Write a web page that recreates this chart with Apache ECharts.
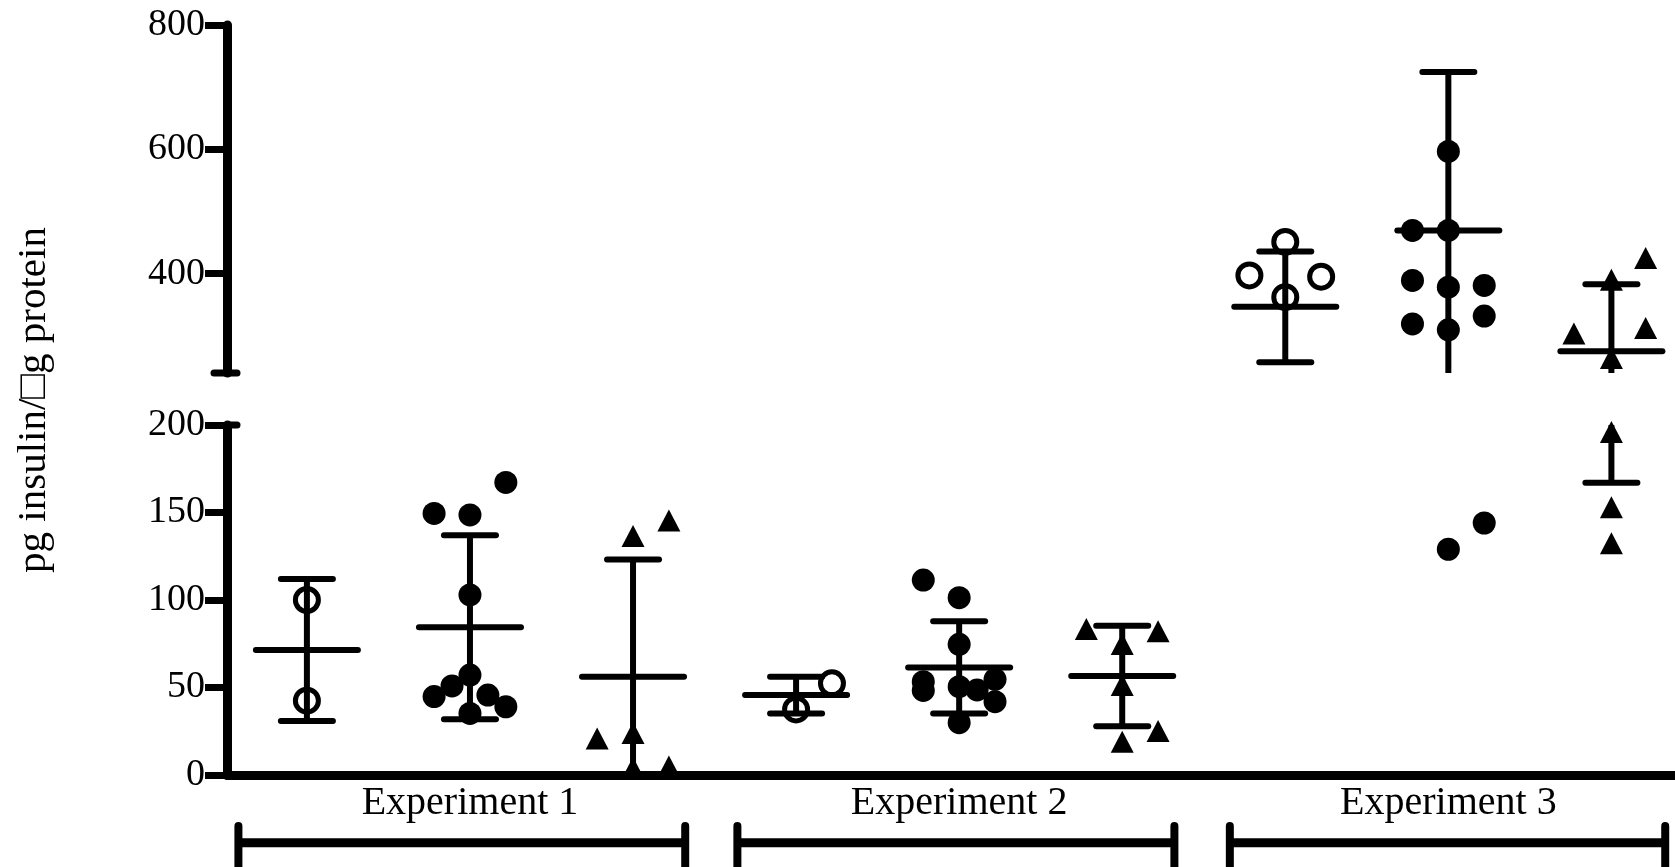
<!DOCTYPE html>
<html><head><meta charset="utf-8">
<script src="https://cdn.jsdelivr.net/npm/echarts@6/dist/echarts.min.js"></script>
<style>html,body{margin:0;padding:0;background:#fff}#c{width:1675px;height:867px}</style>
</head><body><div id="c"></div>
<script>
// ---------- data ----------
const categories = ['Experiment 1', 'Experiment 2', 'Experiment 3'];
const categoryColumn = [1, 4, 7];          // column under which each label is centred
const bracketFrom = [-0.42, 2.64, 5.66];   // bracket extents in column units
const bracketTo = [2.32, 5.32, 8.33];
const yTitle = 'pg insulin/\u25A1g protein';
const lowerTicks = [0, 50, 100, 150, 200];
const upperTicks = [400, 600, 800];

// individual points: column position (column index + jitter) and value
const openCircleX = [0, 0, 3.22, 3, 6, 5.78, 6.22, 6];
const openCircleY = [100, 42.5, 52.4, 37.5, 451, 397, 395, 362];

const filledCircleX = [1.22, 0.78, 1, 1, 1, 0.89, 0.78, 1.11, 1.22, 1,
                       3.78, 4, 4, 3.78, 3.78, 4, 4.11, 4.22, 4.22, 4,
                       7, 6.78, 7, 6.78, 7, 7.22, 6.78, 7, 7.22, 7, 7.22];
const filledCircleY = [167.2, 149.5, 148.6, 102.9, 57.1, 50.9, 44.8, 45.7, 39, 35.2,
                       111.4, 101.3, 74.7, 53.3, 48.3, 50.5, 48.6, 54.7, 41.9, 29.9,
                       596.6, 469.4, 469.4, 389, 378, 381, 319, 309.4, 331.6, 129, 144];

const triangleX = [2.22, 2, 1.78, 2, 2, 2.22,
                   4.78, 5.22, 5, 5, 5.22, 5,
                   8.21, 8, 8.21, 7.77, 8, 8, 8, 8];
const triangleY = [145.5, 136.6, 20.8, 24, 4, 4.8,
                   83.4, 82.1, 74.9, 51.4, 25.1, 19,
                   425, 390, 312.6, 303.6, 264, 196, 153, 132.5];

// mean and SD per column
const columnIndex = [0, 1, 2, 3, 4, 5, 6, 7, 8];
const means = [71.4, 84.4, 56.2, 45.7, 61.5, 56.6, 346.5, 469.4, 275];
const sds = [40.6, 52.6, 67, 10.5, 26.4, 28.7, 89, 255, 108];

// axis ranges
const X_MIN = -0.49, X_MAX = 8.39;
const LOWER_MIN = 0, LOWER_MAX = 200;
const UPPER_MIN = 240, UPPER_MAX = 800;

// ---------- build ----------
const FONT = "'Liberation Serif', 'Times New Roman', serif";
function pts(xs, ys, lo, hi) {
  const out = [];
  xs.forEach((x, i) => { if (ys[i] >= lo && ys[i] <= hi) out.push([x, ys[i]]); });
  return out;
}
const barData = columnIndex.map((c, i) => [c, means[i], sds[i]]);

function errorBar(params, api) {
  const x = api.value(0), m = api.value(1), s = api.value(2);
  const t = api.coord([x, m + s]), mid = api.coord([x, m]), b = api.coord([x, m - s]);
  const st = { stroke: '#000', lineWidth: 6, lineCap: 'round' };
  return { type: 'group', children: [
    { type: 'line', shape: { x1: t[0], y1: t[1], x2: b[0], y2: b[1] }, style: Object.assign({}, st, { lineCap: 'butt' }) },
    { type: 'line', shape: { x1: t[0] - 26, y1: t[1], x2: t[0] + 26, y2: t[1] }, style: st },
    { type: 'line', shape: { x1: b[0] - 26, y1: b[1], x2: b[0] + 26, y2: b[1] }, style: st },
    { type: 'line', shape: { x1: mid[0] - 51, y1: mid[1], x2: mid[0] + 51, y2: mid[1] }, style: st }
  ]};
}
function capItem(left) {
  return function (params, api) {
    const p = api.coord([api.value(0), api.value(1)]);
    return { type: 'line', shape: { x1: p[0] - left, y1: p[1], x2: p[0] + 10, y2: p[1] },
      style: { stroke: '#000', lineWidth: 7, lineCap: 'round' } };
  };
}
function bracketItem(params, api) {
  const a = api.value(0), z = api.value(1);
  const top0 = api.coord([a, 0]), bot0 = api.coord([a, 1]);
  const top1 = api.coord([z, 0]), bot1 = api.coord([z, 1]);
  const mid = api.coord([a, 0.46]);
  const st = { stroke: '#000', lineWidth: 9, lineCap: 'butt' };
  const vt = { stroke: '#000', lineWidth: 8, lineCap: 'round' };
  return { type: 'group', children: [
    { type: 'line', shape: { x1: top0[0], y1: mid[1], x2: top1[0], y2: mid[1] }, style: st },
    { type: 'line', shape: { x1: top0[0], y1: top0[1] + 4, x2: bot0[0], y2: bot0[1] + 10 }, style: vt },
    { type: 'line', shape: { x1: top1[0], y1: top1[1] + 4, x2: bot1[0], y2: bot1[1] + 10 }, style: vt }
  ]};
}

const axisFont = { fontFamily: FONT, fontSize: 38, color: '#000' };
const hiddenX = (gi) => ({ type: 'value', gridIndex: gi, min: X_MIN, max: X_MAX, show: false });

const openStyle = { color: 'rgba(0,0,0,0)', borderColor: '#000', borderWidth: 5, opacity: 1 };
const filledStyle = { color: '#000', opacity: 1 };

function scatterPair(name, xs, ys, symbol, size, style) {
  return [
    { name, type: 'scatter', xAxisIndex: 0, yAxisIndex: 0, symbol, symbolSize: size, itemStyle: style,
      data: pts(xs, ys, UPPER_MIN, UPPER_MAX), z: 3, clip: false },
    { name, type: 'scatter', xAxisIndex: 1, yAxisIndex: 1, symbol, symbolSize: size, itemStyle: style,
      data: pts(xs, ys, LOWER_MIN, LOWER_MAX), z: 3, clip: false }
  ];
}

const yLine = { show: true, onZero: false, lineStyle: { color: '#000', width: 9 } };

const option = {
  animation: false,
  backgroundColor: '#fff',
  grid: [
    { left: 227, right: 0, top: 25, height: 348 },
    { left: 227, right: 0, top: 425, height: 350 },
    { left: 227, right: 0, top: 822, height: 48 },
    { left: 227, right: 0, top: 25, height: 750 }
  ],
  xAxis: [
    hiddenX(0),
    { type: 'value', gridIndex: 1, min: X_MIN, max: X_MAX,
      axisLine: { show: true, onZero: false, lineStyle: { color: '#000', width: 9 } },
      axisTick: { show: false }, splitLine: { show: false },
      axisLabel: Object.assign({}, axisFont, { fontSize: 40, margin: 8, customValues: categoryColumn,
        formatter: (v) => { const i = categoryColumn.indexOf(Math.round(v)); return i >= 0 ? categories[i] : ''; } }) },
    hiddenX(2),
    hiddenX(3)
  ],
  yAxis: [
    { type: 'value', gridIndex: 0, min: UPPER_MIN, max: UPPER_MAX,
      axisLine: yLine,
      axisTick: { show: true, length: 22, lineStyle: { color: '#000', width: 7 }, customValues: upperTicks },
      axisLabel: Object.assign({}, axisFont, { margin: 22, customValues: upperTicks }),
      splitLine: { show: false } },
    { type: 'value', gridIndex: 1, min: LOWER_MIN, max: LOWER_MAX, interval: 50,
      axisLine: yLine,
      axisTick: { show: true, length: 22, lineStyle: { color: '#000', width: 7 }, customValues: lowerTicks },
      axisLabel: Object.assign({}, axisFont, { margin: 22, customValues: lowerTicks }),
      splitLine: { show: false } },
    { type: 'value', gridIndex: 2, min: 0, max: 1, inverse: true, show: false },
    { type: 'value', gridIndex: 3, min: 0, max: 1,
      axisLine: { show: false, onZero: false }, axisTick: { show: false }, axisLabel: { show: false }, splitLine: { show: false },
      name: yTitle, nameLocation: 'middle', nameRotate: 90, nameGap: 172,
      nameTextStyle: { fontFamily: FONT, fontSize: 41, color: '#000' } }
  ],
  series: [
    ...scatterPair('open', openCircleX, openCircleY, 'circle', 23, openStyle),
    ...scatterPair('filled', filledCircleX, filledCircleY, 'circle', 23, filledStyle),
    ...scatterPair('triangle', triangleX, triangleY, 'triangle', [23, 22], filledStyle),
    { type: 'custom', xAxisIndex: 0, yAxisIndex: 0, renderItem: errorBar, data: barData, clip: true, z: 5 },
    { type: 'custom', xAxisIndex: 1, yAxisIndex: 1, renderItem: errorBar, data: barData, clip: true, z: 5 },
    { type: 'custom', xAxisIndex: 0, yAxisIndex: 0, renderItem: capItem(13), data: [[X_MIN, UPPER_MIN]], clip: false, z: 6 },
    { type: 'custom', xAxisIndex: 1, yAxisIndex: 1, renderItem: capItem(0), data: [[X_MIN, LOWER_MAX]], clip: false, z: 6 },
    { type: 'custom', xAxisIndex: 2, yAxisIndex: 2, renderItem: bracketItem,
      data: bracketFrom.map((f, i) => [f, bracketTo[i]]), clip: false, z: 5 }
  ]
};
const chart = echarts.init(document.getElementById('c'), null, { renderer: 'canvas' });
chart.setOption(option);
</script></body></html>
